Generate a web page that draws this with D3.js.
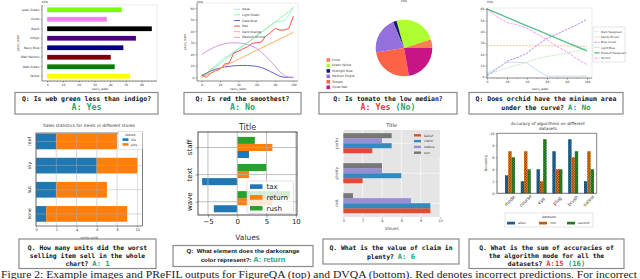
<!DOCTYPE html>
<html>
<head>
<meta charset="utf-8">
<script src="https://cdn.jsdelivr.net/npm/d3@7"></script>
<style>
  body { margin: 0; background: #fff; }
  svg { display: block; font-family: "DejaVu Sans", sans-serif; }
  text { white-space: pre; }
</style>
</head>
<body>
<svg id="fig" width="640" height="279"></svg>
<script>
// ---------- data: top row ----------
var barNames = ["Lawn Green", "Violet", "Black", "Indigo", "Navy Blue", "Web Maroon", "Web Green", "Yellow"];
var barValues = [47.4, 37.9, 66.5, 56.4, 48.4, 40.4, 42.9, 52.8];
var barColors = ["#7cfc00", "#ee82ee", "#000000", "#4b0082", "#000080", "#800000", "#008000", "#ffff00"];
var barTicks = [0, 10, 20, 30, 40, 50, 60];

var lineAX = [0, 5, 10, 15, 20, 25, 30, 35, 40, 45, 50, 55, 60, 65, 70, 75, 80, 85, 90, 95, 100];
var lineANames = ["Aqua", "Light Green", "Slate Blue", "Red", "Dark Orange", "Medium Orchid"];
var lineAColors = ["#8ff5dc", "#90ee90", "#4f4fc4", "#f23c3c", "#ffa54f", "#cf8be9"];
var aquaVals   = [1, 3, 7, 10, 14, 17, 19, 22, 25, 28, 30, 33, 36, 39, 42, 45, 48, 48.5, 49, 54, 60];
var lgreenVals = [0, 3, 6, 9, 12, 15, 18, 21, 24, 27, 30, 33, 36, 39, 42, 45, 48, 51, 54, 57, 61];
var slateVals  = [1.5, 3.5, 5.5, 7, 8, 9, 9.5, 10, 10.2, 10.3, 10.3, 10, 9.5, 8.5, 7, 5, 3, 1, 0, 0, 0];
var redVals    = [2, 0, 3.5, 5.6, 7, 11.5, 12.4, 21, 22.6, 24.7, 26.5, 29.4, 30, 30.6, 35.9, 38.8, 42.4, 41, 41, 42.4, 53];
var dorangeVals = [0, 2, 3.9, 5.9, 7.8, 9.8, 11.7, 13.7, 15.6, 17.6, 19.5, 21.5, 23.4, 25.4, 27.3, 29.3, 31.2, 33.2, 35.1, 37.1, 39];
var morchidVals = [19.7, 22.5, 24.5, 26.5, 28, 29, 29.8, 30, 29.8, 29.5, 28.5, 27, 25, 22, 18, 14, 10, 5, 1.5, 0, 0];
var lineATicksX = [0, 20, 40, 60, 80, 100];
var lineTicksY = [0, 10, 20, 30, 40, 50, 60];

var pieNames = ["Coral", "Green Yellow", "Midnight Blue", "Medium Purple", "Tomato", "Violet Red"];
var pieValues = [5, 24, 2, 21, 25, 22];
var pieColors = ["#ff7f50", "#adff2f", "#191970", "#9370db", "#ff6347", "#c71585"];

var lineBX = [0, 10, 20, 30, 40, 50, 60, 70, 80, 90, 100];
var lineBNames = ["Dark Seagreen", "Sandy Brown", "Blue Violet", "Light Blue", "Medium Seagreen", "Orchid"];
var lineBColors = ["#9fe3a6", "#f6b26b", "#a772f0", "#bcd3ef", "#5cc08c", "#ef8bee"];
var lineBDash = ["1.5,1", "2,1.2", "2.5,1", null, null, "3,1"];
var lineBWidth = [0.8, 0.8, 0.8, 0.8, 1.4, 0.8];
var dseaVals   = [2, 5, 8, 10.5, 13, 16, 18, 19.5, 21, 23, 25.5];
var sandyVals  = [27.6, 27.6, 27.6, 27.6, 27.6, 27.6, 27.6, 27.5, 27.4, 27.2, 27];
var bvioletVals = [1, 7, 14, 17, 21, 28, 34, 38, 42, 46, 51];
var lblueVals  = [3, 8, 13, 13, 12.5, 6, 0.8, 0.8, 0.8, 0.8, 0.8];
var mseaVals   = [60, 56.3, 52.6, 48.9, 45.2, 41.5, 37.8, 34.1, 30.4, 26.7, 23];
var orchidVals = [60, 53, 48, 46, 43, 38, 33, 27, 22, 16, 11];
var lineBTicksX = [0, 20, 40, 60, 80, 100];

// ---------- data: bottom row ----------
var storeItems = ["roof", "sky", "hut", "bone"];
var storeNames = ["life", "pity"];
var storeA = [2, 6, 2, 1];
var storeB = [6, 4, 5, 8];
var storeTicks = [0, 2, 4, 6, 8, 10];

var hGroups = ["staff", "text", "wave"];
var hSeries = ["tax", "return", "rush"];
var taxVals = [2, -6, -4];
var returnVals = [6, 2, 6];
var rushVals = [3, 5, 9];
var hTicks = [-5, 0, 5, 10];

var gGroups = ["parks", "plenty", "cost"];
var gSeries = ["belief", "claim", "statue", "sun"];
var beliefVals = [3, 2, 9];
var claimVals = [5, 6, 9];
var statueVals = [4, 4, 7];
var sunVals = [5, 4, 1];
var gTicks = [0, 2, 4, 6, 8, 10];

var algos = ["mode", "course", "eye", "plug", "brush", "saline"];
var dsets = ["alien", "iron", "second"];
var alienVals = [3, 2, 4, 7, 9, 2];
var ironVals = [7, 7, 2, 4, 6, 7];
var secondVals = [6, 4, 9, 4, 7, 4];
var accTicks = [0, 2, 4, 6, 8, 10];

// ---------- helpers ----------
var svg = d3.select("#fig");
var GREEN = "#25a37b", RED = "#e8383d";

function txt(g, x, y, s, size, anchor, extra) {
  var t = g.append("text").attr("x", x).attr("y", y).text(s)
    .style("font-size", size + "px").attr("text-anchor", anchor || "start").attr("fill", "#333");
  if (extra) extra(t);
  return t;
}
function vtxt(g, x, y, s, size, color) {
  return g.append("text").attr("transform", "translate(" + x + "," + y + ") rotate(-90)")
    .attr("text-anchor", "middle").attr("dominant-baseline", "middle")
    .style("font-size", size + "px").attr("fill", color || "#333").text(s);
}
function styleAxis(a, size, color) {
  a.attr("font-size", null).attr("font-family", null);
  a.select(".domain").remove();
  a.selectAll("line").attr("stroke", color || "#444").attr("stroke-width", 0.4);
  a.selectAll("text").style("font-size", size + "px").attr("fill", color || "#333");
}
function frame(g, l, t, r, b, dark, light) {
  g.append("line").attr("x1", l).attr("x2", r).attr("y1", t).attr("y2", t).attr("stroke", light).attr("stroke-width", 0.6);
  g.append("line").attr("x1", r).attr("x2", r).attr("y1", t).attr("y2", b).attr("stroke", light).attr("stroke-width", 0.6);
  g.append("line").attr("x1", l).attr("x2", l).attr("y1", t).attr("y2", b).attr("stroke", dark).attr("stroke-width", 0.7);
  g.append("line").attr("x1", l).attr("x2", r).attr("y1", b).attr("y2", b).attr("stroke", dark).attr("stroke-width", 0.7);
}
function qbox(x0, y0, x1, y1, lines, family) {
  svg.append("rect").attr("x", x0).attr("y", y0).attr("width", x1 - x0).attr("height", y1 - y0)
    .attr("fill", "#fff").attr("stroke", "#8a8a8a").attr("stroke-width", 1.2);
  lines.forEach(function (ln) {
    var t = svg.append("text").attr("x", (x0 + x1) / 2).attr("y", ln.y).attr("text-anchor", "middle")
      .style("font-family", family).style("font-weight", "bold");
    ln.parts.forEach(function (p) {
      t.append("tspan").text(p[0]).attr("fill", p[1]).style("font-size", p[2] + "px");
    });
  });
}

// ---------- panel 1: horizontal color bars ----------
(function () {
  var L = 42, R = 157, T = 5, B = 81;
  var g = svg.append("g");
  var x = d3.scaleLinear().domain([-3.3, 69.8]).range([L, R]);
  var y = d3.scaleBand().domain(barNames).range([T, B]).paddingInner(0.5).paddingOuter(0.25);
  g.selectAll("rect").data(barNames).enter().append("rect")
    .attr("x", x(0)).attr("y", function (d) { return y(d); })
    .attr("width", function (d, i) { return x(barValues[i]) - x(0); })
    .attr("height", y.bandwidth())
    .attr("fill", function (d, i) { return barColors[i]; });
  frame(g, L, T, R, B, "#555", "#ddd");
  styleAxis(g.append("g").attr("transform", "translate(0," + B + ")")
    .call(d3.axisBottom(x).tickValues(d3.range(0, 70, 2)).tickSize(1).tickFormat("")), 3);
  styleAxis(g.append("g").attr("transform", "translate(0," + B + ")")
    .call(d3.axisBottom(x).tickValues(barTicks).tickSize(1.6).tickPadding(1)), 3);
  styleAxis(g.append("g").attr("transform", "translate(" + L + ",0)")
    .call(d3.axisLeft(y).tickSize(1.2).tickPadding(1.5)), 3);
  txt(g, L, 3, "title", 3);
  txt(g, 100, 90, "xaxis_label", 3, "middle");
  vtxt(g, 18, 43, "yaxis_label", 3);
})();

// ---------- panel 2: lines ----------
(function () {
  var L = 197, R = 298, T = 3, B = 81;
  var g = svg.append("g");
  var x = d3.scaleLinear().domain([-5, 105]).range([L, R]);
  var y = d3.scaleLinear().domain([-3.2, 64.5]).range([B, T]);
  var series = [aquaVals, lgreenVals, slateVals, redVals, dorangeVals, morchidVals];
  var line = d3.line().x(function (d, i) { return x(lineAX[i]); }).y(function (d) { return y(d); });
  series.forEach(function (s, k) {
    g.append("path").datum(s).attr("d", line).attr("fill", "none")
      .attr("stroke", lineAColors[k]).attr("stroke-width", 0.9);
  });
  frame(g, L, T, R, B, "#555", "#ddd");
  styleAxis(g.append("g").attr("transform", "translate(0," + B + ")")
    .call(d3.axisBottom(x).tickValues(lineATicksX).tickSize(1.6).tickPadding(1)), 3);
  styleAxis(g.append("g").attr("transform", "translate(" + L + ",0)")
    .call(d3.axisLeft(y).tickValues(lineTicksY).tickSize(1.6).tickPadding(1)), 3);
  lineANames.forEach(function (n, k) {
    var yy = 9.3 + k * 5.6;
    g.append("line").attr("x1", 234).attr("x2", 240).attr("y1", yy).attr("y2", yy)
      .attr("stroke", lineAColors[k]).attr("stroke-width", 0.9);
    txt(g, 242, yy + 1, n, 3);
  });
  txt(g, L, 2.5, "title", 3);
  txt(g, 238, 90, "xaxis_label", 3, "middle");
  vtxt(g, 185, 42, "yaxis_label", 3);
})();

// ---------- panel 3: pie ----------
(function () {
  var g = svg.append("g").attr("transform", "translate(404,48)");
  var pie = d3.pie().sort(null).value(function (d) { return d; })
    .startAngle(Math.PI / 2).endAngle(Math.PI / 2 - 2 * Math.PI);
  var arc = d3.arc().innerRadius(0).outerRadius(28.3);
  g.selectAll("path").data(pie(pieValues)).enter().append("path")
    .attr("d", arc).attr("fill", function (d, i) { return pieColors[i]; });
  var lg = svg.append("g");
  pieNames.forEach(function (n, k) {
    var yy = 60 + k * 5.45;
    lg.append("rect").attr("x", 326.5).attr("y", yy - 1.8).attr("width", 3.6).attr("height", 3.6).attr("fill", pieColors[k]);
    txt(lg, 332, yy + 1, n, 3);
  });
  txt(lg, 404, 2, "title", 3, "middle");
})();

// ---------- panel 4: lines with legend ----------
(function () {
  var L = 487, R = 592, T = 8, B = 78;
  var g = svg.append("g");
  var x = d3.scaleLinear().domain([0, 105]).range([L, R]);
  var y = d3.scaleLinear().domain([-0.9, 60.9]).range([B, T]);
  var series = [dseaVals, sandyVals, bvioletVals, lblueVals, mseaVals, orchidVals];
  var line = d3.line().x(function (d, i) { return x(lineBX[i]); }).y(function (d) { return y(d); });
  series.forEach(function (s, k) {
    g.append("path").datum(s).attr("d", line).attr("fill", "none")
      .attr("stroke", lineBColors[k]).attr("stroke-width", lineBWidth[k])
      .attr("stroke-dasharray", lineBDash[k]);
  });
  frame(g, L, T, R, B, "#555", "#ddd");
  styleAxis(g.append("g").attr("transform", "translate(0," + B + ")")
    .call(d3.axisBottom(x).tickValues(d3.range(0, 101, 10)).tickSize(1).tickFormat("")), 3);
  styleAxis(g.append("g").attr("transform", "translate(0," + B + ")")
    .call(d3.axisBottom(x).tickValues(lineBTicksX).tickSize(1.6).tickPadding(1)), 3);
  styleAxis(g.append("g").attr("transform", "translate(" + L + ",0)")
    .call(d3.axisLeft(y).tickValues(lineTicksY).tickSize(1.6).tickPadding(1)), 3);
  g.append("rect").attr("x", 593).attr("y", 27).attr("width", 32).attr("height", 35)
    .attr("fill", "#fff").attr("stroke", "#ccc").attr("stroke-width", 0.5);
  lineBNames.forEach(function (n, k) {
    var yy = 31.7 + k * 5.3;
    g.append("line").attr("x1", 594.5).attr("x2", 599.5).attr("y1", yy).attr("y2", yy)
      .attr("stroke", lineBColors[k]).attr("stroke-width", lineBWidth[k]).attr("stroke-dasharray", lineBDash[k]);
    txt(g, 601, yy + 1, n, 2.8);
  });
  txt(g, L, 3, "title", 3);
  txt(g, 540, 90, "xaxis_label", 3, "middle");
})();

// ---------- panel 5: stacked store bars ----------
(function () {
  var L = 36, R = 142.4, T = 133, B = 226;
  var g = svg.append("g");
  var x = d3.scaleLinear().domain([0, 10.5]).range([L, R]);
  var y = d3.scaleLinear().domain([-0.35, 3.5]).range([T, B]);
  var h = 0.65;
  var cols = ["#1f77b4", "#ff7f0e"];
  storeItems.forEach(function (c, i) {
    g.append("rect").attr("x", x(0)).attr("y", y(i - h / 2)).attr("width", x(storeA[i]) - x(0))
      .attr("height", y(h) - y(0)).attr("fill", cols[0]);
    g.append("rect").attr("x", x(storeA[i])).attr("y", y(i - h / 2)).attr("width", x(storeA[i] + storeB[i]) - x(storeA[i]))
      .attr("height", y(h) - y(0)).attr("fill", cols[1]);
  });
  storeTicks.forEach(function (t) {
    g.append("line").attr("x1", x(t)).attr("x2", x(t)).attr("y1", T).attr("y2", B).attr("stroke", "#b0b0b0").attr("stroke-width", 0.6).attr("opacity", 0.8);
  });
  storeItems.forEach(function (c, i) {
    g.append("line").attr("x1", L).attr("x2", R).attr("y1", y(i)).attr("y2", y(i)).attr("stroke", "#b0b0b0").attr("stroke-width", 0.6).attr("opacity", 0.8);
  });
  g.append("rect").attr("x", L).attr("y", T).attr("width", R - L).attr("height", B - T)
    .attr("fill", "none").attr("stroke", "#444").attr("stroke-width", 0.7);
  styleAxis(g.append("g").attr("transform", "translate(0," + B + ")")
    .call(d3.axisBottom(x).tickValues(storeTicks).tickSize(1.5).tickPadding(1.5)), 3.5);
  storeItems.forEach(function (c, i) { vtxt(g, 29.5, y(i), c, 4.5, "#222"); });
  txt(g, 89, 126.5, "Sales statistics for items in different stores", 4.3, "middle");
  txt(g, 89, 239, "units sold", 3.6, "middle");
  g.append("rect").attr("x", 118.3).attr("y", 131.5).attr("width", 24).attr("height", 18)
    .attr("fill", "#fff").attr("stroke", "#ccc").attr("stroke-width", 0.5);
  txt(g, 130.3, 135.6, "stores", 3.4, "middle");
  storeNames.forEach(function (n, k) {
    var yy = 139.6 + k * 4.8;
    g.append("rect").attr("x", 122.5).attr("y", yy - 1.3).attr("width", 6).attr("height", 2.6).attr("fill", cols[k]);
    txt(g, 131, yy + 1.2, n, 3.3);
  });
})();

// ---------- panel 6: grouped horizontal bars ----------
(function () {
  var L = 198, R = 297, T = 132, B = 215;
  var g = svg.append("g");
  var x = d3.scaleLinear().domain([-6.7, 10.2]).range([L, R]);
  var y = d3.scaleLinear().domain([-0.57, 2.49]).range([T, B]);
  var h = 0.26;
  var cols = ["#1f77b4", "#ff7f0e", "#2ca02c"];
  var vals = [taxVals, returnVals, rushVals];
  var offs = [h, 0, -h];
  hGroups.forEach(function (c, i) {
    vals.forEach(function (v, k) {
      g.append("rect").attr("x", x(Math.min(0, v[i]))).attr("y", y(i + offs[k] - h / 2))
        .attr("width", Math.abs(x(v[i]) - x(0))).attr("height", y(h) - y(0)).attr("fill", cols[k]);
    });
  });
  hTicks.forEach(function (t) {
    g.append("line").attr("x1", x(t)).attr("x2", x(t)).attr("y1", T).attr("y2", B).attr("stroke", "#b0b0b0").attr("stroke-width", 0.8);
  });
  hGroups.forEach(function (c, i) {
    g.append("line").attr("x1", L).attr("x2", R).attr("y1", y(i)).attr("y2", y(i)).attr("stroke", "#b0b0b0").attr("stroke-width", 0.8);
  });
  g.append("rect").attr("x", L).attr("y", T).attr("width", R - L).attr("height", B - T)
    .attr("fill", "none").attr("stroke", "#222").attr("stroke-width", 0.8);
  styleAxis(g.append("g").attr("transform", "translate(0," + B + ")")
    .call(d3.axisBottom(x).tickValues(hTicks).tickSize(2.5).tickPadding(1.5).tickFormat(function (d) { return d < 0 ? "\u2212" + (-d) : d; })), 7, "#222");
  styleAxis(g.append("g").attr("transform", "translate(" + L + ",0)")
    .call(d3.axisLeft(y).tickValues([0, 1, 2]).tickSize(2.5).tickFormat("")), 7, "#222");
  hGroups.forEach(function (c, i) { vtxt(g, 190.5, y(i), c, 7, "#222"); });
  txt(g, 247.5, 130, "Title", 8, "middle");
  txt(g, 247.5, 239.5, "Values", 7.5, "middle");
  g.append("rect").attr("x", 247).attr("y", 181).attr("width", 46.5).attr("height", 32.5).attr("rx", 1.5)
    .attr("fill", "#fff").attr("fill-opacity", 0.8).attr("stroke", "#ccc").attr("stroke-width", 0.6);
  hSeries.forEach(function (n, k) {
    var yy = 186.6 + k * 10.8;
    g.append("rect").attr("x", 250).attr("y", yy - 2.3).attr("width", 12.5).attr("height", 4.6).attr("fill", cols[k]);
    txt(g, 266.5, yy + 2.5, n, 7, "start", function (t) { t.attr("fill", "#222"); });
  });
})();

// ---------- panel 7: ggplot-style grouped bars ----------
(function () {
  var L = 343.3, R = 440, T = 130, B = 217;
  var g = svg.append("g");
  var x = d3.scaleLinear().domain([0, 10]).range([L, R]);
  var y = d3.scaleLinear().domain([-0.44, 2.46]).range([T, B]);
  var h = 0.167;
  var cols = ["#e24a33", "#348abd", "#988ed5", "#777777"];
  var vals = [beliefVals, claimVals, statueVals, sunVals];
  var offs = [1.5 * h, 0.5 * h, -0.5 * h, -1.5 * h];
  g.append("rect").attr("x", L).attr("y", T).attr("width", R - L).attr("height", B - T).attr("fill", "#e5e5e5");
  gTicks.forEach(function (t) {
    g.append("line").attr("x1", x(t)).attr("x2", x(t)).attr("y1", T).attr("y2", B).attr("stroke", "#fff").attr("stroke-width", 0.6);
  });
  gGroups.forEach(function (c, i) {
    g.append("line").attr("x1", L).attr("x2", R).attr("y1", y(i)).attr("y2", y(i)).attr("stroke", "#fff").attr("stroke-width", 0.6);
  });
  gGroups.forEach(function (c, i) {
    vals.forEach(function (v, k) {
      g.append("rect").attr("x", x(0)).attr("y", y(i + offs[k] - h / 2))
        .attr("width", x(v[i]) - x(0)).attr("height", y(h) - y(0)).attr("fill", cols[k]);
    });
  });
  styleAxis(g.append("g").attr("transform", "translate(0," + B + ")")
    .call(d3.axisBottom(x).tickValues(gTicks).tickSize(1.5).tickPadding(1.2)), 3.6, "#555");
  gGroups.forEach(function (c, i) { vtxt(g, 337, y(i), c, 4, "#555"); });
  txt(g, 391.7, 126.5, "Title", 5, "middle");
  txt(g, 391.7, 230, "Values", 4.3, "middle", function (t) { t.attr("fill", "#555"); });
  g.append("rect").attr("x", 412).attr("y", 131.3).attr("width", 27.5).attr("height", 24.5)
    .attr("fill", "#e5e5e5").attr("stroke", "#ddd").attr("stroke-width", 0.4);
  gSeries.forEach(function (n, k) {
    var yy = 135.3 + k * 5.8;
    g.append("rect").attr("x", 414).attr("y", yy - 1.2).attr("width", 7).attr("height", 2.4).attr("fill", cols[k]);
    txt(g, 424, yy + 1.2, n, 3.3);
  });
})();

// ---------- panel 8: hatched grouped bars ----------
(function () {
  var L = 497, R = 596.7, T = 133.3, B = 193.3;
  var g = svg.append("g");
  var defs = svg.append("defs");
  defs.append("pattern").attr("id", "hatchX").attr("patternUnits", "userSpaceOnUse")
    .attr("width", 2.6).attr("height", 2.6)
    .append("path").attr("d", "M0,0L2.6,2.6M2.6,0L0,2.6").attr("stroke", "#1a1a1a").attr("stroke-width", 0.45);
  var x = d3.scaleLinear().domain([-0.82, 5.49]).range([L, R]);
  var y = d3.scaleLinear().domain([0, 10]).range([B, T]);
  var w = 0.21;
  var cols = ["#1f77b4", "#ff7f0e", "#2ca02c"];
  var vals = [alienVals, ironVals, secondVals];
  algos.forEach(function (a, i) {
    vals.forEach(function (v, k) {
      var xx = x(i + (k - 1) * w - w / 2), ww = x(w) - x(0);
      g.append("rect").attr("x", xx).attr("y", y(v[i])).attr("width", ww).attr("height", y(0) - y(v[i])).attr("fill", cols[k]);
      g.append("rect").attr("x", xx).attr("y", y(v[i])).attr("width", ww).attr("height", y(0) - y(v[i])).attr("fill", "url(#hatchX)");
    });
  });
  frame(g, L, T, R, B, "#333", "#333");
  styleAxis(g.append("g").attr("transform", "translate(" + L + ",0)")
    .call(d3.axisLeft(y).tickValues(accTicks).tickSize(1.5).tickPadding(1)), 3.4);
  algos.forEach(function (a, i) {
    g.append("text").attr("transform", "translate(" + x(i) + ",201) rotate(-45)")
      .attr("text-anchor", "middle").attr("dominant-baseline", "middle")
      .style("font-size", "4.6px").attr("fill", "#333").text(a);
  });
  vtxt(g, 486.5, 163, "Accuracy", 3.6);
  txt(g, 548, 124.5, "Accuracy of algorithms on different", 4.2, "middle");
  txt(g, 548, 130, "datasets", 4.2, "middle");
  g.append("rect").attr("x", 505).attr("y", 213).attr("width", 88).attr("height", 14)
    .attr("fill", "#fff").attr("stroke", "#ccc").attr("stroke-width", 0.5);
  txt(g, 549, 218.3, "datasets", 3.3, "middle");
  var lx = [507, 539, 567];
  dsets.forEach(function (n, k) {
    g.append("rect").attr("x", lx[k]).attr("y", 221.8).attr("width", 8).attr("height", 2.6).attr("fill", cols[k]);
    g.append("rect").attr("x", lx[k]).attr("y", 221.8).attr("width", 8).attr("height", 2.6).attr("fill", "url(#hatchX)");
    txt(g, lx[k] + 11, 224.3, n, 3.2);
  });
})();

// ---------- question / answer boxes ----------
var MONO = "'DejaVu Sans Mono', monospace", SANS = "'Liberation Sans', Arial, sans-serif";
qbox(15, 92.5, 158, 114, [
  { y: 101.3, parts: [["Q: Is web green less than indigo?", "#111", 6.5]] },
  { y: 110.3, parts: [["A: Yes", GREEN, 8.3]] }], MONO);
qbox(184, 92.5, 301, 114, [
  { y: 101.3, parts: [["Q: Is red the smoothest?", "#111", 6.5]] },
  { y: 110.3, parts: [["A: No", GREEN, 8.3]] }], MONO);
qbox(319, 92.5, 457, 114, [
  { y: 101.3, parts: [["Q: Is tomato the low median?", "#111", 6.5]] },
  { y: 110.3, parts: [["A: Yes ", RED, 8.3], ["(No)", GREEN, 8.3]] }], MONO);
qbox(469, 92.5, 623, 114, [
  { y: 101.3, parts: [["Q: Does orchid have the minimum area", "#111", 6.5]] },
  { y: 109.8, parts: [["under the curve? ", "#111", 6.5], ["A: No", GREEN, 7.6]] }], MONO);

qbox(19, 239, 156, 268.5, [
  { y: 249.5, parts: [["Q. How many units did the worst", "#111", 6.4]] },
  { y: 257.7, parts: [["selling item sell in the whole", "#111", 6.4]] },
  { y: 266, parts: [["chart? ", "#111", 6.4], ["A: 1", GREEN, 7.2]] }], MONO);
qbox(173, 245.5, 313, 266.5, [
  { y: 253.3, parts: [["Q:  What element does the darkorange", "#111", 6.2]] },
  { y: 262, parts: [["color represent?: ", "#111", 6.2], ["A: return", GREEN, 7.6]] }], SANS);
qbox(323, 239, 459, 264, [
  { y: 249.5, parts: [["Q. What is the value of claim in", "#111", 6.4]] },
  { y: 258.5, parts: [["plenty? ", "#111", 6.4], ["A: 6", GREEN, 7.2]] }], MONO);
qbox(469, 239, 624, 268.5, [
  { y: 249.5, parts: [["Q. What is the sum of accuracies of", "#111", 6.4]] },
  { y: 257.7, parts: [["the algorithm mode for all the", "#111", 6.4]] },
  { y: 266, parts: [["datasets? ", "#111", 6.4], ["A:15 ", RED, 7.2], ["(16)", GREEN, 7.2]] }], MONO);

// ---------- caption ----------
svg.append("text").attr("x", 1).attr("y", 277.5).style("font-family", "'Liberation Serif', serif")
  .style("font-size", "9.5px").attr("fill", "#222")
  .attr("textLength", 636).attr("lengthAdjust", "spacingAndGlyphs")
  .text("Figure 2: Example images and PReFIL outputs for FigureQA (top) and DVQA (bottom). Red denotes incorrect predictions. For incorrect");
</script>
</body>
</html>
